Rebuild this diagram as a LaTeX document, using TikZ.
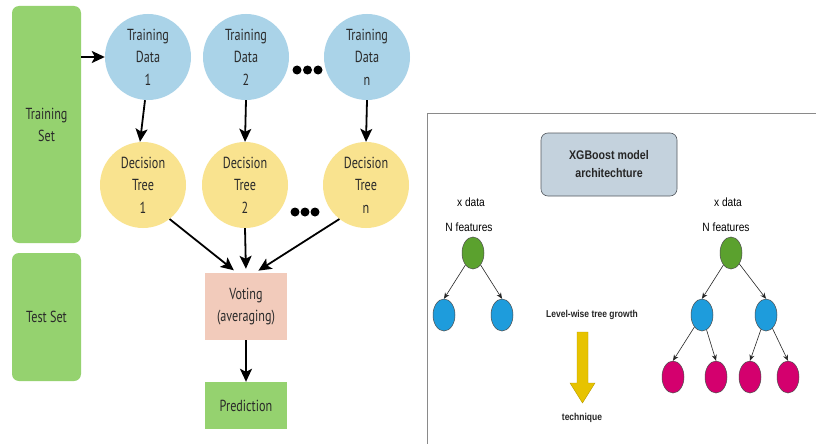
\documentclass[tikz,border=0pt]{standalone}
\usepackage{fontspec}
\setmainfont{PT Sans}[FakeStretch=0.76]
\newfontfamily\arialn{Liberation Sans}[FakeStretch=0.85]
\usetikzlibrary{arrows.meta,shapes.geometric}
\definecolor{boxgreen}{HTML}{95D26F}
\definecolor{tdblue}{HTML}{AAD3E8}
\definecolor{dtyellow}{HTML}{F9E38F}
\definecolor{votepink}{HTML}{F2CBBB}
\definecolor{txtdark}{HTML}{2A2A2A}
\definecolor{xgfill}{HTML}{C4D2DD}
\definecolor{xgborder}{HTML}{555A60}
\definecolor{gnode}{HTML}{5BA12E}
\definecolor{bnode}{HTML}{1E9CDC}
\definecolor{pnode}{HTML}{D4006E}
\definecolor{yarrow}{HTML}{E7C300}
\definecolor{framegray}{HTML}{8A8A8A}
\tikzset{
  setbox/.style={fill=boxgreen, rounded corners=7pt, inner sep=0pt, text=txtdark,
    font=\fontsize{16}{22}\selectfont, align=center},
  tdcirc/.style={circle, fill=tdblue, minimum size=86pt, inner sep=0pt, text=txtdark,
    font=\fontsize{16}{22.5}\selectfont, align=center},
  dtcirc/.style={circle, fill=dtyellow, minimum size=86pt, inner sep=0pt, text=txtdark,
    font=\fontsize{16}{22.5}\selectfont, align=center},
  flatbox/.style={inner sep=0pt, text=txtdark, font=\fontsize{16}{22}\selectfont, align=center},
  dotn/.style={circle, fill=black, minimum size=9pt, inner sep=0pt},
  bigarr/.style={-{Stealth[length=13pt,width=12pt,inset=3pt]}, line width=1.8pt, black},
  tnode/.style={ellipse, minimum width=22pt, minimum height=32pt, inner sep=0pt, draw=black!70, line width=0.5pt},
  tarr/.style={-{Stealth[length=6pt,width=5pt]}, line width=0.6pt, black!85},
  xlabel/.style={font=\arialn\fontsize{12}{14}\selectfont, text=black},
}
\begin{document}
\begin{tikzpicture}[x=1pt,y=-1pt]
\useasboundingbox[fill=white] (0,0) rectangle (816,444);

% ---------- left: random forest ----------
\node[setbox, minimum width=69pt, minimum height=237pt] (TS) at (46.5,124.5) {Training\\Set};
\node[setbox, minimum width=69pt, minimum height=128pt] (TE) at (46.5,317) {Test Set};

\node[tdcirc] (TD1) at (148,57) {Training\\Data\\1};
\node[tdcirc] (TD2) at (246,57) {Training\\Data\\2};
\node[tdcirc] (TDn) at (367,57) {Training\\Data\\n};

\node[dtcirc] (DT1) at (143,185) {Decision\\Tree\\1};
\node[dtcirc] (DT2) at (245,185) {Decision\\Tree\\2};
\node[dtcirc] (DTn) at (366,185) {Decision\\Tree\\n};

\node[dotn] (d1) at (297,70) {};
\node[dotn] (d2) at (307.5,70) {};
\node[dotn] (d3) at (318,70) {};
\node[dotn] (e1) at (295,212) {};
\node[dotn] (e2) at (305,212) {};
\node[dotn] (e3) at (315,212) {};

\node[flatbox, fill=votepink, minimum width=82pt, minimum height=67pt] (V) at (246,306.5) {Voting\\(averaging)};
\node[flatbox, fill=boxgreen, minimum width=82pt, minimum height=47pt] (P) at (246,405.5) {Prediction};

\draw[bigarr] (TS.east |- TD1.west) -- (TD1.west);
\draw[bigarr] ([xshift=-3pt]TD1.south) -- ([xshift=-3pt]DT1.north);
\draw[bigarr] (TD2.south) -- (DT2.north);
\draw[bigarr] (TDn.south) -- (DTn.north);
\draw[bigarr, shorten >=4pt] (DT1.-52) -- ([xshift=-9pt]V.north);
\draw[bigarr, shorten >=4pt] (DT2.south) -- (V.north);
\draw[bigarr, shorten >=4pt] (DTn.-128) -- ([xshift=9pt]V.north);
\draw[bigarr] (V.south) -- (P.north);

% ---------- right: XGBoost ----------
\draw[framegray, line width=0.8pt] (427,444) -- (427,113) -- (816,113);

\node[draw=xgborder, fill=xgfill, rounded corners=7pt, line width=0.6pt,
  minimum width=136pt, minimum height=63pt, align=center,
  font=\arialn\bfseries\fontsize{12.5}{18}\selectfont, text=black!85] (XG) at (609,164.5) {XGBoost model\\architechture};

\node[xlabel] (lx) at (471,202) {x data};
\node[xlabel] (ln) at (469,227) {N features};
\node[xlabel] (rx) at (728,202) {x data};
\node[xlabel] (rn) at (726,227) {N features};

\node[tnode, fill=gnode] (LG) at (473,253) {};
\node[tnode, fill=bnode] (LB1) at (444,315) {};
\node[tnode, fill=bnode] (LB2) at (502,315) {};
\draw[tarr] (LG) -- (LB1.north);
\draw[tarr] (LG) -- (LB2.north);

\node[tnode, fill=gnode] (RG) at (731,253) {};
\node[tnode, fill=bnode] (RB1) at (702,315) {};
\node[tnode, fill=bnode] (RB2) at (766,315) {};
\node[tnode, fill=pnode] (RP1) at (673,377) {};
\node[tnode, fill=pnode] (RP2) at (716,377) {};
\node[tnode, fill=pnode] (RP3) at (750,377) {};
\node[tnode, fill=pnode] (RP4) at (788,377) {};
\draw[tarr] (RG) -- (RB1.north);
\draw[tarr] (RG) -- (RB2.north);
\draw[tarr] (RB1) -- (RP1.north);
\draw[tarr] (RB1) -- (RP2.north);
\draw[tarr] (RB2) -- (RP3.north);
\draw[tarr] (RB2) -- (RP4.north);

\node[font=\arialn\bfseries\fontsize{10}{11}\selectfont, text=black!85] (lw) at (592,315) {Level-wise tree growth};
\fill[yarrow, draw=yarrow!80!black, line width=0.4pt]
  (577,332) -- (588,332) -- (588,383) -- (595,383) -- (582.5,403) -- (570,383) -- (577,383) -- cycle;
\node[font=\arialn\bfseries\fontsize{10}{11}\selectfont, text=black!85] (tq) at (582,418) {technique};
\end{tikzpicture}
\end{document}
